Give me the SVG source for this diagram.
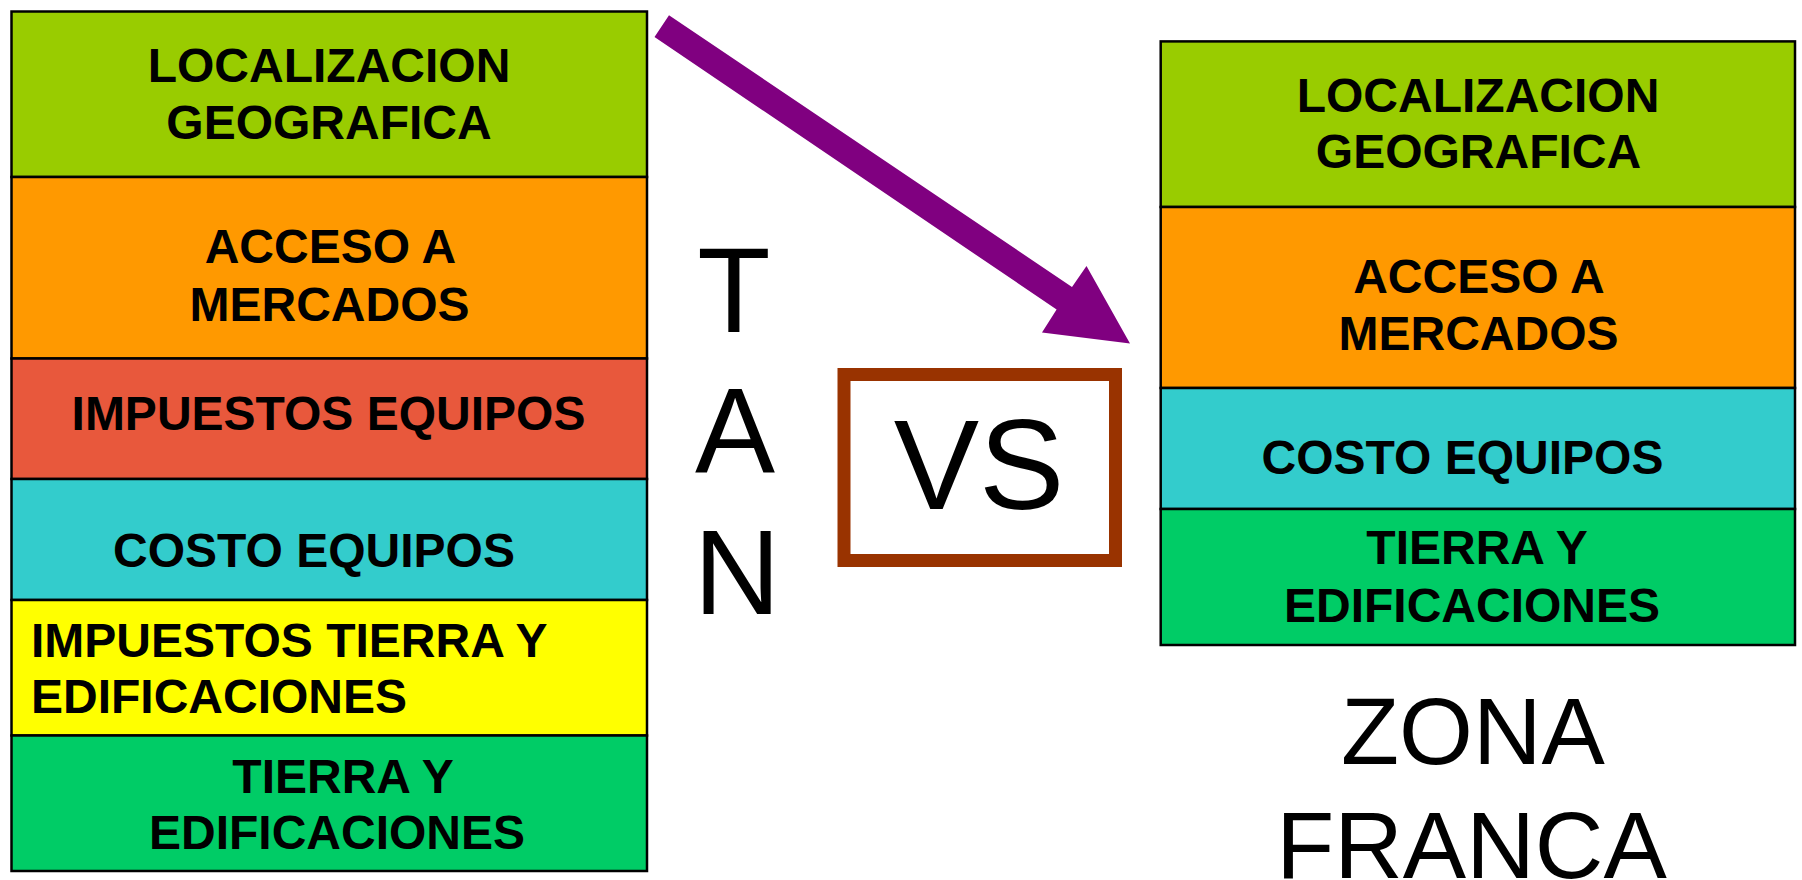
<svg xmlns="http://www.w3.org/2000/svg" width="1802" height="880" viewBox="0 0 1802 880">
<style>
.box{stroke:#000;stroke-width:2.5}
.lb{font-family:"Liberation Sans",Arial,sans-serif;font-weight:bold;font-size:48px;fill:#000}
.c{text-anchor:middle}
.big{font-family:"Liberation Sans",Arial,sans-serif;fill:#000;text-anchor:middle}
</style>
<rect width="1802" height="880" fill="#fff"/>
<g id="tan-column">
<g id="l-loc"><rect class="box" x="11.5" y="11.5" width="635.5" height="165.5" fill="#99CC00"/>
<text class="lb c" x="329" y="82">LOCALIZACION</text><text class="lb c" x="329" y="138.5">GEOGRAFICA</text></g>
<g id="l-acc"><rect class="box" x="11.5" y="177" width="635.5" height="181.5" fill="#FF9900"/>
<text class="lb c" x="330.5" y="263">ACCESO A</text><text class="lb c" x="329.5" y="321">MERCADOS</text></g>
<g id="l-imp"><rect class="box" x="11.5" y="358.5" width="635.5" height="120.5" fill="#E8583C"/>
<text class="lb c" x="328.5" y="430">IMPUESTOS EQUIPOS</text></g>
<g id="l-costo"><rect class="box" x="11.5" y="479" width="635.5" height="121" fill="#33CCCC"/>
<text class="lb c" x="314" y="566.5">COSTO EQUIPOS</text></g>
<g id="l-imptierra"><rect class="box" x="11.5" y="600" width="635.5" height="135.5" fill="#FFFF00"/>
<text class="lb" x="31" y="656.5">IMPUESTOS TIERRA Y</text><text class="lb" x="31" y="713">EDIFICACIONES</text></g>
<g id="l-tierra"><rect class="box" x="11.5" y="735.5" width="635.5" height="135.5" fill="#00CC66"/>
<text class="lb c" x="343" y="793">TIERRA Y</text><text class="lb c" x="337" y="849">EDIFICACIONES</text></g>
</g>
<g id="zf-column">
<g id="r-loc"><rect class="box" x="1160.7" y="41.4" width="634.3" height="165.6" fill="#99CC00"/>
<text class="lb c" x="1478" y="112.4">LOCALIZACION</text><text class="lb c" x="1478.5" y="168">GEOGRAFICA</text></g>
<g id="r-acc"><rect class="box" x="1160.7" y="207" width="634.3" height="181" fill="#FF9900"/>
<text class="lb c" x="1479" y="293">ACCESO A</text><text class="lb c" x="1478.5" y="350.3">MERCADOS</text></g>
<g id="r-costo"><rect class="box" x="1160.7" y="388" width="634.3" height="121" fill="#33CCCC"/>
<text class="lb c" x="1462.5" y="474.3">COSTO EQUIPOS</text></g>
<g id="r-tierra"><rect class="box" x="1160.7" y="509" width="634.3" height="136" fill="#00CC66"/>
<text class="lb c" x="1477" y="564.4">TIERRA Y</text><text class="lb c" x="1472" y="622.2">EDIFICACIONES</text></g>
</g>
<g id="tan-label">
<text class="big" font-size="120" x="734" y="332">T</text>
<text class="big" font-size="120" x="735" y="472">A</text>
<text class="big" font-size="120" x="737" y="614">N</text>
</g>
<g id="vs">
<rect x="844" y="374.5" width="271.5" height="186" fill="#fff" stroke="#993300" stroke-width="13"/>
<text class="big" font-size="128" x="979" y="509">VS</text>
</g>
<g id="zona-franca">
<text class="big" font-size="95" x="1473" y="764">ZONA</text>
<text class="big" font-size="95" x="1471.5" y="878">FRANCA</text>
</g>
<g id="connectors">
<polygon fill="#800080" points="669,15.3 1072,287 1086.5,266 1130,343.6 1042,332.5 1056.6,309.5 654.5,37"/>
</g>
</svg>
